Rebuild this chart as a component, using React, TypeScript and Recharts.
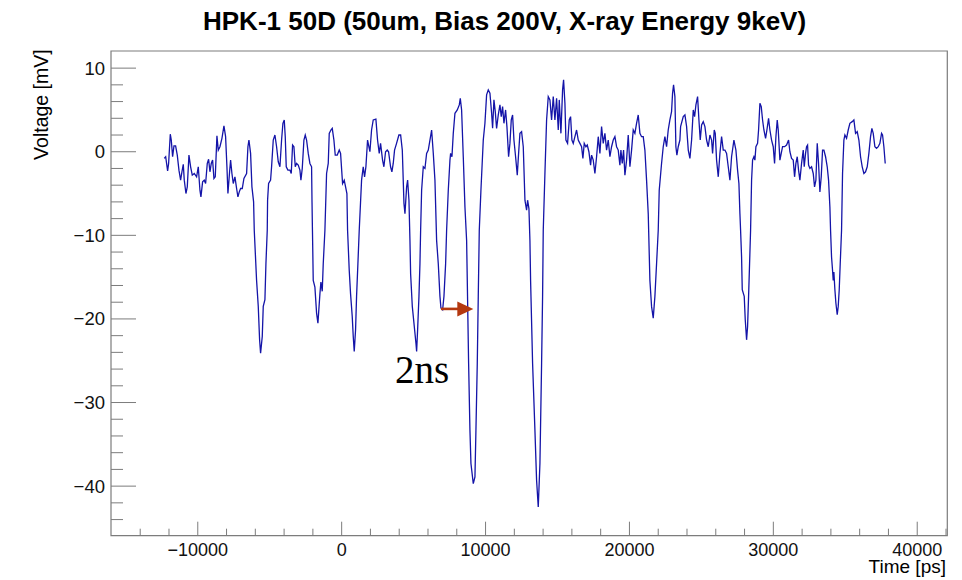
import React from "react";
import { LineChart, Line, XAxis, YAxis, ReferenceArea, ReferenceLine, ReferenceDot } from "recharts";

const chartTitle = "HPK-1 50D (50um, Bias 200V, X-ray Energy 9keV)";
const xAxisTitle = "Time [ps]";
const yAxisTitle = "Voltage [mV]";
const annotationText = "2ns";

const xDomain = [-16030, 42090];
const yDomain = [-45.93, 12.05];

const xTicks = [-14000, -12000, -10000, -8000, -6000, -4000, -2000, 0, 2000, 4000, 6000, 8000, 10000, 12000, 14000, 16000, 18000, 20000, 22000, 24000, 26000, 28000, 30000, 32000, 34000, 36000, 38000, 40000, 42000];
const yTicks = [-44, -42, -40, -38, -36, -34, -32, -30, -28, -26, -24, -22, -20, -18, -16, -14, -12, -10, -8, -6, -4, -2, 0, 2, 4, 6, 8, 10];

const timePs = [
  -12330, -12230, -12095, -12026, -11910, -11841, -11748, -11655, -11540, -11424, -11308, -11192, -11100, -11007, -10938, -10822, -10729, -10613, -10497, -10382,
  -10243, -10081, -9965, -9849, -9780, -9664, -9548, -9455, -9339, -9247, -9154, -9062, -8969, -8876, -8784, -8668, -8575, -8459, -8320, -8181,
  -8066, -7973, -7904, -7788, -7718, -7626, -7533, -7417, -7301, -7209, -7116, -7023, -6908, -6792, -6607, -6514, -6444, -6329, -6236, -6120,
  -6074, -5912, -5796, -5703, -5634, -5518, -5449, -5333, -5263, -5171, -5148, -5078, -4939, -4870, -4754, -4638, -4522, -4406, -4291, -4175,
  -4082, -3990, -3920, -3851, -3735, -3596, -3503, -3411, -3318, -3225, -3133, -3017, -2901, -2832, -2739, -2623, -2530, -2438, -2322, -2206,
  -2090, -2060, -2030, -1975, -1859, -1743, -1650, -1511, -1442, -1349, -1280, -1164, -1048, -932, -863, -747, -654, -539, -446, -307,
  -168, -75, 63, 179, 272, 365, 411, 527, 619, 735, 805, 874, 967, 1036, 1129, 1221, 1384, 1499, 1592, 1685,
  1800, 1870, 1963, 2078, 2194, 2379, 2495, 2611, 2704, 2843, 2935, 3051, 3167, 3260, 3399, 3491, 3584, 3676, 3815, 3978,
  4098, 4214, 4330, 4399, 4515, 4584, 4677, 4746, 4793, 4909, 5047, 5163, 5210, 5279, 5372, 5441, 5488, 5557, 5673, 5789,
  5904, 6020, 6136, 6252, 6368, 6483, 6599, 6715, 6831, 6900, 7016, 7109, 7225, 7294, 7410, 7526, 7572, 7665, 7757, 7873,
  8035, 8174, 8244, 8336, 8452, 8568, 8684, 8730, 8823, 8915, 8985, 9147, 9263, 9332, 9425, 9494, 9564, 9679, 9842, 9957,
  10073, 10189, 10305, 10421, 10490, 10583, 10675, 10768, 10884, 11000, 11092, 11185, 11278, 11393, 11486, 11602, 11694, 11787, 11880, 11973,
  12088, 12204, 12297, 12389, 12505, 12621, 12737, 12852, 12922, 13015, 13084, 13130, 13269, 13431, 13547, 13663, 13779, 13895, 13964, 14010,
  14126, 14242, 14358, 14474, 14589, 14705, 14821, 14937, 15053, 15122, 15238, 15354, 15423, 15516, 15585, 15701, 15817, 15910, 16002, 16095,
  16211, 16326, 16442, 16558, 16674, 16766, 16859, 16975, 17068, 17183, 17299, 17369, 17484, 17600, 17716, 17832, 17948, 18063, 18179, 18295,
  18411, 18527, 18642, 18758, 18874, 18990, 19106, 19221, 19337, 19407, 19500, 19592, 19685, 19801, 19916, 20032, 20148, 20264, 20379, 20495,
  20611, 20727, 20843, 20958, 21074, 21190, 21306, 21422, 21537, 21653, 21769, 21885, 22001, 22070, 22232, 22348, 22464, 22580, 22695, 22811,
  22927, 22997, 23066, 23159, 23228, 23298, 23391, 23507, 23555, 23740, 23856, 23972, 24088, 24203, 24319, 24435, 24528, 24620, 24736, 24829,
  24921, 25014, 25130, 25246, 25361, 25477, 25593, 25709, 25778, 25894, 25964, 26056, 26172, 26288, 26404, 26519, 26635, 26751, 26867, 26983,
  27098, 27261, 27399, 27515, 27608, 27677, 27724, 27793, 27840, 27978, 28048, 28141, 28210, 28280, 28349, 28419, 28488, 28557, 28650, 28720,
  28789, 28905, 28974, 29067, 29160, 29252, 29345, 29461, 29553, 29669, 29762, 29878, 29993, 30086, 30179, 30271, 30341, 30457, 30549, 30642,
  30781, 30920, 31059, 31151, 31267, 31383, 31476, 31568, 31661, 31754, 31846, 31962, 32078, 32147, 32240, 32309, 32379, 32448, 32541, 32657,
  32773, 32865, 32958, 33051, 33143, 33236, 33329, 33421, 33514, 33630, 33745, 33838, 33931, 33977, 34046, 34116, 34162, 34208, 34278, 34347,
  34440, 34509, 34579, 34648, 34741, 34810, 34903, 34973, 35089, 35204, 35320, 35482, 35598, 35714, 35830, 35946, 36062, 36177, 36293, 36409,
  36525, 36640, 36756, 36849, 36942, 37058, 37173, 37289, 37405, 37521, 37590, 37683, 37776,
];

const voltageMv = [
  -0.8, -0.6, -2.3, -1.4, 2.1, 1.4, -0.6, 0.7, 0.7, -0.4, -2.2, -3.4, -2.4, -1.5, -3.4, -5.0, -4.2, -0.4, -1.8, -2.8,
  -2.6, -3.0, -1.8, -4.6, -5.4, -3.6, -3.4, -3.8, -1.4, -0.9, -2.4, -1.4, -1.0, -3.2, -3.0, 1.9, 0.2, 0.6, 1.6, 3.1,
  1.8, -1.8, -5.0, -2.4, -1.0, -2.6, -3.8, -3.0, -4.4, -5.4, -4.8, -4.4, -4.4, -3.2, -2.6, 0.6, 1.4, -0.2, -4.2, -6.0,
  -9.4, -15.4, -18.5, -22.5, -24.1, -22.1, -18.5, -17.7, -13.4, -9.4, -5.8, -3.8, -3.4, -1.8, 1.4, 2.0, 0.6, -1.2, -1.8, 1.4,
  3.4, 3.8, 1.8, -1.8, -2.2, -2.2, -2.6, 0.8, 0.6, -1.8, -1.4, -1.6, -2.2, -3.4, -2.0, 1.4, 2.0, 1.4, -0.2, -1.4,
  -1.8, -6.0, -9.4, -15.4, -16.2, -19.3, -20.5, -17.0, -15.6, -16.7, -13.4, -9.4, -2.6, -1.4, 2.2, 2.6, 2.8, 1.4, -0.4, -0.4,
  0.2, -0.2, -3.8, -3.4, -4.2, -5.0, -9.4, -14.2, -17.0, -19.7, -22.1, -23.9, -21.3, -17.3, -13.4, -9.4, -3.4, -1.8, -3.0, -1.8,
  1.4, 0.8, 0.0, 2.6, 3.8, 3.9, 1.4, -0.2, 1.0, -1.0, -1.8, 0.0, 0.2, 0.0, -1.8, -2.4, -1.4, 0.2, 1.0, 2.0,
  2.0, 0.2, -6.2, -7.4, -4.2, -3.4, -5.8, -10.6, -14.6, -18.5, -20.9, -22.9, -23.9, -21.3, -17.3, -13.4, -9.4, -4.6, -1.8, -2.0,
  -0.2, 0.2, 1.4, 2.6, -0.2, -3.4, -10.6, -13.4, -17.3, -18.7, -18.9, -17.3, -13.4, -9.4, -4.6, -1.0, -0.2, -0.6, 2.2, 4.6,
  5.0, 5.6, 6.4, 5.0, -0.6, -6.6, -10.6, -15.4, -25.3, -33.3, -37.3, -39.7, -38.9, -33.3, -25.3, -17.3, -9.4, -4.6, 1.4, 3.4,
  6.8, 7.4, 7.0, 4.6, 2.8, 6.2, 4.8, 2.8, 4.4, 5.6, 4.2, 5.4, 3.4, 5.0, 3.0, -0.6, 1.0, 3.8, 4.4, 1.4,
  -0.6, -2.8, -0.2, 2.2, 2.4, 0.6, -5.8, -7.0, -5.8, -6.8, -10.6, -15.4, -25.3, -33.3, -39.3, -42.5, -37.3, -25.3, -17.3, -9.4,
  -2.6, 3.8, 6.6, 6.2, 3.8, 6.6, 3.8, 6.4, 2.6, 6.2, 2.2, 7.4, 8.6, 5.8, 1.4, 1.0, 3.8, 4.2, 1.4, 1.0,
  1.8, 2.6, 1.4, 1.0, 0.6, -0.8, 1.0, 0.6, 0.8, 0.0, -1.6, -0.4, -1.0, -2.6, -0.6, 1.8, -0.2, 3.0, 1.0, 2.2,
  0.2, 1.4, -0.6, 0.6, 1.4, 1.8, 0.6, 0.2, -1.6, 0.2, -1.4, 0.2, -2.8, -1.0, 2.0, -1.8, 0.2, 2.6, 2.2, 3.4,
  4.4, 2.2, 1.8, 1.8, 0.2, -3.4, -7.4, -15.4, -18.5, -19.9, -17.3, -13.4, -9.4, -4.6, -1.4, 0.6, 1.8, 0.6, 2.6, 3.8,
  4.8, 7.0, 8.0, 6.6, 0.6, -0.4, 0.6, 1.4, 3.0, 4.2, 4.4, 3.0, 0.2, -0.8, 1.4, 5.0, 4.2, 5.6, 6.6, 3.8,
  1.4, 3.2, 3.6, 3.0, 1.4, 0.6, 2.0, 1.4, -0.2, 2.6, 2.2, -1.0, -3.0, -0.2, 1.8, 0.2, 0.2, -0.2, -1.8, -3.4,
  -0.6, 1.4, 0.2, -2.2, -3.8, -7.4, -9.4, -12.6, -16.5, -17.3, -20.1, -22.5, -20.9, -17.3, -13.4, -9.4, -3.4, -1.0, -0.6, -1.0,
  0.6, 1.0, 2.6, 5.8, 5.4, 3.8, 2.6, 1.6, 2.6, 4.0, 2.6, 1.4, 0.6, -1.4, 1.8, 3.8, 2.6, -1.0, -0.2, 0.6,
  0.6, 0.8, 1.4, 0.0, -0.8, -1.0, -3.0, -1.4, -0.6, -2.2, -3.4, -1.4, 0.2, -1.8, -0.2, 0.6, 0.8, -1.6, -2.0, -1.8,
  -2.6, -4.2, -3.4, 1.0, -1.4, -4.8, -3.0, 0.2, 0.2, -0.6, -1.8, -3.4, -6.6, -9.4, -12.6, -14.2, -15.4, -14.4, -16.5, -18.1,
  -19.5, -18.5, -16.5, -13.4, -9.4, -2.6, 1.4, 2.0, 1.6, 2.6, 3.4, 3.6, 3.8, 2.2, 2.4, 1.4, -0.6, -1.8, -2.6, -2.4,
  -1.8, -0.2, 1.8, 2.8, 2.2, 0.6, 0.4, 0.6, 1.0, 2.2, 2.0, 0.6, -1.4,
];

// annotation anchors (data coordinates)
const arrowStart = { t: 6900, v: -18.8 };
const arrowShaftEnd = { t: 8150, v: -18.8 };
const arrowTip = { t: 9150, v: -18.8 };
const labelAnchor = { t: 3704, v: -27.67 };

const data = timePs.map((t, i) => ({ t, v: voltageMv[i] }));

const AXIS_COLOR = "#7c7c7c";
const LABEL_FONT = "'Liberation Sans', Arial, Helvetica, sans-serif";

const fmt = (v: number) => (v < 0 ? "\u2212" + Math.abs(v) : String(v));

const XTick = (props: any) => {
  const { x, y, payload } = props;
  const major = payload.value % 10000 === 0;
  return (
    <g>
      <line x1={x} y1={y} x2={x} y2={y - (major ? 14 : 7)} stroke={AXIS_COLOR} strokeWidth={1} />
      {major && (
        <text x={x} y={y + 20} textAnchor="middle" fontSize={18} fontFamily={LABEL_FONT} fill="#111">
          {fmt(payload.value)}
        </text>
      )}
    </g>
  );
};

const YTick = (props: any) => {
  const { x, y, payload } = props;
  const major = payload.value % 10 === 0;
  return (
    <g>
      <line x1={x} y1={y} x2={x + (major ? 25 : 12)} y2={y} stroke={AXIS_COLOR} strokeWidth={1} />
      {major && (
        <text x={x - 6} y={y + 6.5} textAnchor="end" fontSize={18.5} fontFamily={LABEL_FONT} fill="#111">
          {fmt(payload.value)}
        </text>
      )}
    </g>
  );
};

const ArrowHead = (props: any) => {
  const { cx, cy } = props;
  return <polygon points={`${cx},${cy} ${cx - 16},${cy - 7.5} ${cx - 16},${cy + 7.5}`} fill="#B4380F" />;
};

const TextMark = (props: any) => {
  const { cx, cy } = props;
  return (
    <text x={cx} y={cy} fontSize={39} fontFamily="'Liberation Serif', 'Times New Roman', serif" fill="#000">
      {annotationText}
    </text>
  );
};

export default function App() {
  return (
    <div style={{ position: "absolute", left: 0, top: 0, width: 962, height: 580, background: "#fff" }}>
      <LineChart
        width={962}
        height={580}
        data={data}
        margin={{ top: 51, right: 14.7, bottom: 14.3, left: 51 }}
      >
        <XAxis
          dataKey="t"
          type="number"
          domain={xDomain}
          ticks={xTicks}
          interval={0}
          allowDataOverflow
          height={30}
          tickSize={0}
          tickMargin={0}
          tickLine={false}
          axisLine={false}
          tick={<XTick />}
        />
        <YAxis
          dataKey="v"
          type="number"
          domain={yDomain}
          ticks={yTicks}
          interval={0}
          allowDataOverflow
          width={60}
          tickSize={0}
          tickMargin={0}
          tickLine={false}
          axisLine={false}
          tick={<YTick />}
        />
        <ReferenceArea
          x1={xDomain[0]}
          x2={xDomain[1]}
          y1={yDomain[0]}
          y2={yDomain[1]}
          fill="none"
          fillOpacity={0}
          stroke={AXIS_COLOR}
          strokeWidth={1.2}
          ifOverflow="visible"
        />
        <Line
          dataKey="v"
          type="linear"
          stroke="#1414A8"
          strokeWidth={1.3}
          dot={false}
          isAnimationActive={false}
        />
        <ReferenceLine
          segment={[{ x: arrowStart.t, y: arrowStart.v }, { x: arrowShaftEnd.t, y: arrowShaftEnd.v }]}
          stroke="#B4380F"
          strokeWidth={2.6}
          ifOverflow="visible"
        />
        <ReferenceDot x={arrowTip.t} y={arrowTip.v} r={8} shape={<ArrowHead />} ifOverflow="visible" />
        <ReferenceDot x={labelAnchor.t} y={labelAnchor.v} r={1} shape={<TextMark />} ifOverflow="visible" />
      </LineChart>
      <svg
        width={962}
        height={580}
        style={{ position: "absolute", left: 0, top: 0, pointerEvents: "none" }}
      >
        <text x={203} y={30} fontSize={26} fontWeight="bold" fontFamily={LABEL_FONT} fill="#000">
          {chartTitle}
        </text>
        <text x={946} y={573} textAnchor="end" fontSize={19} fontFamily={LABEL_FONT} fill="#000">
          {xAxisTitle}
        </text>
        <text
          transform="translate(48, 49.3) rotate(-90)"
          textAnchor="end"
          fontSize={19.5}
          fontFamily={LABEL_FONT}
          fill="#000"
        >
          {yAxisTitle}
        </text>
      </svg>
    </div>
  );
}
